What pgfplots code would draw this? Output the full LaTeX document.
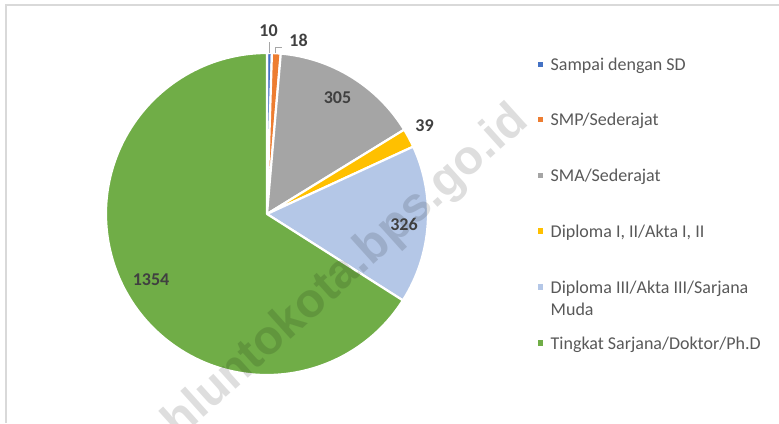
\documentclass[border=0pt]{standalone}
\usepackage{pgfplots}
\pgfplotsset{compat=1.18}
\usepackage{pgfplotstable}
\usepackage{fontspec}
\setmainfont{Carlito}
\newfontfamily\wmfont{Liberation Sans}
\definecolor{c1}{HTML}{4472C4}
\definecolor{c2}{HTML}{ED7D31}
\definecolor{c3}{HTML}{A5A5A5}
\definecolor{c4}{HTML}{FFC000}
\definecolor{c5}{HTML}{B4C7E7}
\definecolor{c6}{HTML}{70AD47}
\definecolor{lbl}{HTML}{404040}
\definecolor{leg}{HTML}{595959}
\definecolor{brd}{HTML}{D9D9D9}
\definecolor{ldr}{HTML}{A6A6A6}

\pgfplotstableread{
value color
10 c1
18 c2
305 c3
39 c4
326 c5
1354 c6
}\piedata

\begin{document}
\begin{tikzpicture}[x=1pt,y=1pt]
\useasboundingbox (0,0) rectangle (779,423);
\fill[white] (0,0) rectangle (779,423);
\draw[brd, line width=1.5pt] (5.8,0) -- (5.8,418.2) -- (779,418.2);
\coordinate (pc) at (267,209);
\begin{axis}[at={(pc)}, anchor=center, x=161pt, y=161pt,
  xmin=-1.05, xmax=1.05, ymin=-1.05, ymax=1.05, hide axis, clip=false]
  \pgfplotstablegetrowsof{\piedata}
  \pgfmathtruncatemacro\N{\pgfplotsretval-1}
  \def\tot{0}
  \pgfplotsforeachungrouped \i in {0,...,\N}{%
    \pgfplotstablegetelem{\i}{value}\of\piedata
    \pgfmathsetmacro\tot{\tot+\pgfplotsretval}%
  }
  \def\cum{0}
  \pgfplotsforeachungrouped \i in {0,...,\N}{%
    \pgfplotstablegetelem{\i}{value}\of\piedata
    \let\sliceval\pgfplotsretval
    \pgfplotstablegetelem{\i}{color}\of\piedata
    \let\slicecol\pgfplotsretval
    \pgfmathsetmacro\sa{90-360*(\cum/\tot)}%
    \pgfmathsetmacro\cum{\cum+\sliceval}%
    \pgfmathsetmacro\sb{90-360*(\cum/\tot)}%
    \edef\temp{\noexpand\filldraw[fill=\slicecol, draw=white, line width=2.2pt, line join=round] (axis cs:0,0) -- (axis cs:{cos(\sa)},{sin(\sa)}) arc[start angle=\sa, end angle=\sb, radius=161pt] -- cycle;}%
    \temp
  }
\end{axis}
% watermark
\node[font=\wmfont\bfseries\fontsize{48}{48}\selectfont, text=black, text opacity=0.13,
  rotate=42, anchor=center, inner sep=0pt] at (303,111.5) {sawahluntokota.bps.go.id};
% leader lines
\draw[ldr, line width=0.8pt] (269.3,369.5) -- (269.3,381.3);
\draw[ldr, line width=0.8pt] (275.3,370) -- (275.3,375.3) -- (281.7,375.3);
% data labels
\begin{scope}[every node/.style={font=\bfseries\fontsize{18}{18}\selectfont, text=lbl, inner sep=0pt, anchor=center}]
\node at (268.5,392) {10};
\node at (298.5,382.5) {18};
\node at (337.5,325) {305};
\node at (424.5,297.5) {39};
\node at (404,198.5) {326};
\node at (151,143) {1354};
\end{scope}
% legend
\begin{scope}[every node/.style={font=\fontsize{18}{22}\selectfont, text=leg, inner sep=0pt, anchor=base west}]
\foreach \yb/\col/\txt in {352.3/c1/Sampai dengan SD, 297/c2/SMP\slash Sederajat, 241.3/c3/SMA\slash Sederajat, 185.7/c4/{Diploma I, II\slash Akta I, II}, 129.7/c5/Diploma III\slash Akta III\slash Sarjana, 73.7/c6/Tingkat Sarjana\slash Doktor\slash Ph.D}{
  \fill[\col] (537.5,\yb+3.5) rectangle (543,\yb+9);
  \node at (550.5,\yb) {\txt};
}
\node at (550.5,107.7) {Muda};
\end{scope}
\end{tikzpicture}
\end{document}
